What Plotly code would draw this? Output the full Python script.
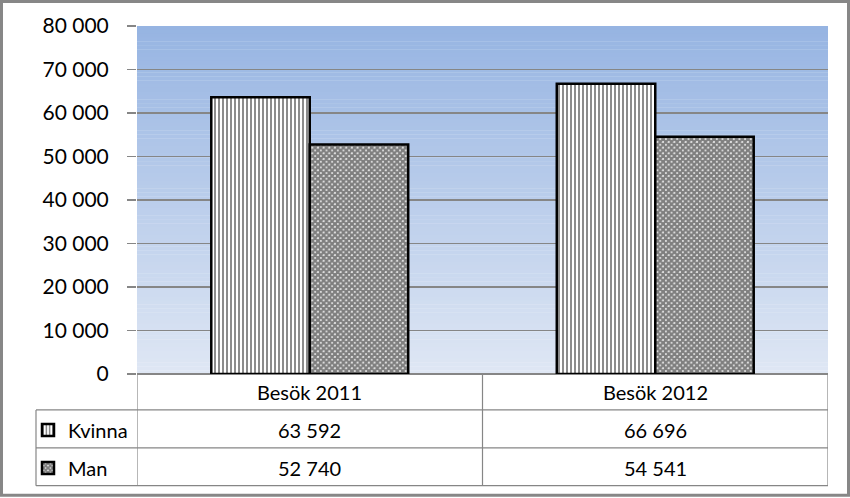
import plotly.graph_objects as go

categories = ["Besök 2011", "Besök 2012"]
kvinna = [63592, 66696]
man = [52740, 54541]
series_names = ["Kvinna", "Man"]
y_ticks = [0, 10000, 20000, 30000, 40000, 50000, 60000, 70000, 80000]

W, H = 850, 498
L, R, T, B = 137, 828, 26, 375
pw, ph = R - L, B - T

def px(x):
    return (x - L) / pw

def py(y):
    return (B - y) / ph

FONT = "Lato"
GRID = "#868686"

fig = go.Figure()
fig.add_trace(go.Bar(
    x=categories, y=kvinna, name=series_names[0], legend="legend",
    marker=dict(color="white", line=dict(color="black", width=2.5),
                pattern=dict(shape="|", fgcolor="black", bgcolor="white", size=4, solidity=0.45)),
))
fig.add_trace(go.Bar(
    x=categories, y=man, name=series_names[1], legend="legend2",
    marker=dict(color="white", line=dict(color="black", width=2.5),
                pattern=dict(shape="x", fgcolor="black", bgcolor="white", size=4, solidity=0.85)),
))

shapes = []
# gradient background strips
N = 90
top = (150, 180, 226)
bot = (223, 231, 244)
for i in range(N):
    t = (i + 0.5) / N
    c = tuple(round(top[k] + (bot[k] - top[k]) * t) for k in range(3))
    shapes.append(dict(type="rect", xref="x domain", yref="y domain",
                       x0=0, x1=1, y0=1 - (i + 1) / N - 0.001, y1=1 - i / N,
                       fillcolor="rgb(%d,%d,%d)" % c, line=dict(width=0), layer="below"))

def hline(y, x0, x1, xref="paper"):
    shapes.append(dict(type="line", xref=xref, yref="paper", x0=x0, x1=x1, y0=py(y), y1=py(y),
                       line=dict(color=GRID, width=1.2)))

def vline(x, y0, y1, xref="paper"):
    shapes.append(dict(type="line", xref=xref, yref="paper", x0=x, x1=x, y0=py(y0), y1=py(y1),
                       line=dict(color=GRID, width=1.2)))

# data table lines
for xb in [-0.5, 0.5, 1.5]:
    vline(xb, 375, 487, xref="x")
vline(px(36), 411, 487)
for yy in [411, 449, 487]:
    hline(yy, px(36), 1)

# outer border
shapes.append(dict(type="rect", xref="paper", yref="paper",
                   x0=px(1.5), x1=px(848.5), y0=py(496.5), y1=py(1.5),
                   line=dict(color="#878787", width=3), fillcolor="rgba(0,0,0,0)"))

annotations = []
for i, cat in enumerate(categories):
    annotations.append(dict(x=cat, xref="x", y=py(393), yref="paper", text=cat, showarrow=False,
                            font=dict(family=FONT, size=20, color="black"), xanchor="center", yanchor="middle"))
    for vals, yy in [(kvinna, 431), (man, 469)]:
        annotations.append(dict(x=cat, xref="x", y=py(yy), yref="paper",
                                text=f"{vals[i]:,}".replace(",", " "), showarrow=False,
                                font=dict(family=FONT, size=20, color="black"),
                                xanchor="center", yanchor="middle"))

legend_common = dict(xanchor="left", yanchor="middle", bgcolor="rgba(0,0,0,0)", borderwidth=0,
                     font=dict(family=FONT, size=20, color="black"), itemwidth=30,
                     itemclick=False, itemdoubleclick=False)

fig.update_layout(
    width=W, height=H,
    margin=dict(l=L, r=W - R, t=T, b=H - B, pad=0),
    paper_bgcolor="white", plot_bgcolor="rgba(0,0,0,0)",
    separators=", ",
    barmode="group", bargap=0.43, bargroupgap=0,
    showlegend=True,
    legend=dict(x=px(28), y=py(430), **legend_common),
    legend2=dict(x=px(28), y=py(468), **legend_common),
    xaxis=dict(showticklabels=False, ticks="", showgrid=False, showline=False, zeroline=False,
               range=[-0.5, 1.5]),
    yaxis=dict(range=[0, 80000], tickvals=y_ticks, tickformat=",d", ticks="outside", ticklen=9,
               tickcolor=GRID, tickwidth=1.2, ticklabelstandoff=14,
               showgrid=True, gridcolor=GRID, gridwidth=1.2,
               zeroline=True, zerolinecolor=GRID, zerolinewidth=1.2, showline=False,
               tickfont=dict(family=FONT, size=21, color="black")),
    shapes=shapes,
    annotations=annotations,
)

fig.write_html("out.html", config={"displayModeBar": False, "staticPlot": True},
               post_script="document.body.style.margin='0';document.body.style.overflow='hidden';")
